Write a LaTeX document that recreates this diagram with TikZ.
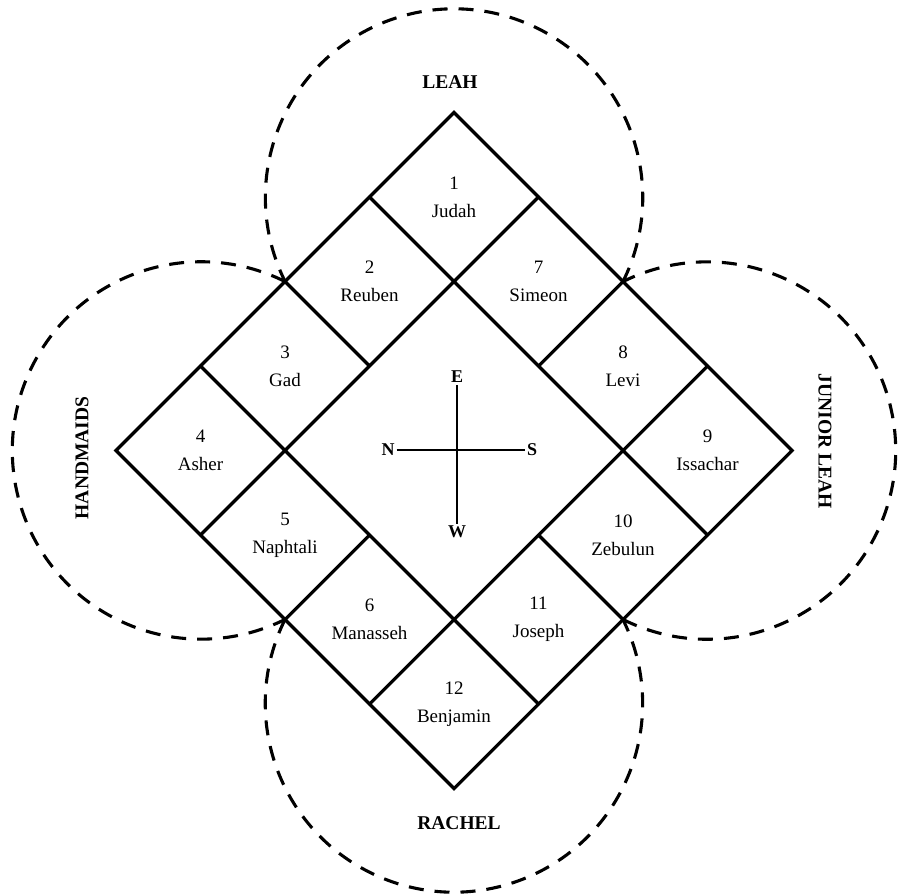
\documentclass[tikz,border=0pt]{standalone}
\usepackage{fontspec}
\setmainfont{Liberation Serif}
\begin{document}
\begin{tikzpicture}[x=1pt,y=-1pt,
  gridline/.style={line width=3.2pt, line cap=round, line join=miter},
  ring/.style={line width=3.1pt, dash pattern=on 15pt off 11pt},
  celltext/.style={align=center, font=\fontsize{19}{28}\selectfont, inner sep=0pt},
  family/.style={font=\bfseries\fontsize{19.5}{23}\selectfont, inner sep=1pt},
  compass/.style={font=\bfseries\fontsize{18}{20}\selectfont, inner sep=2pt},
  compassline/.style={line width=2.8pt}]
\fill[white] (0,0) rectangle (905,895);
\useasboundingbox (0,0) rectangle (905,895);

\begin{scope}[shift={(454pt,-112.5pt)}, x={(84.5pt,-84.5pt)}, y={(-84.5pt,-84.5pt)}]
  \coordinate (jTL) at (0,2);
  \coordinate (jTR) at (2,0);
  \coordinate (jBL) at (2,4);
  \coordinate (jBR) at (4,2);
  \draw[gridline] (0,0) -- (4,0) -- (4,4) -- (0,4) -- cycle;
  \draw[gridline] (1,0) -- (1,4) (3,0) -- (3,4) (0,1) -- (4,1) (0,3) -- (4,3)
                  (2,0) -- (2,1) (2,3) -- (2,4) (0,2) -- (1,2) (3,2) -- (4,2);
  \node[celltext] (c1)  at (0.5,0.5) {1\\Judah};
  \node[celltext] (c2)  at (0.5,1.5) {2\\Reuben};
  \node[celltext] (c3)  at (0.5,2.5) {3\\Gad};
  \node[celltext] (c4)  at (0.5,3.5) {4\\Asher};
  \node[celltext] (c5)  at (1.5,3.5) {5\\Naphtali};
  \node[celltext] (c6)  at (2.5,3.5) {6\\Manasseh};
  \node[celltext] (c12) at (3.5,3.5) {12\\Benjamin};
  \node[celltext] (c7)  at (1.5,0.5) {7\\Simeon};
  \node[celltext] (c8)  at (2.5,0.5) {8\\Levi};
  \node[celltext] (c9)  at (3.5,0.5) {9\\Issachar};
  \node[celltext] (c10) at (3.5,1.5) {10\\Zebulun};
  \node[celltext] (c11) at (3.5,2.5) {11\\Joseph};
\end{scope}

% dashed circles (outside the diamond only)
\draw[ring] (jTR) arc[start angle=-26.43, end angle=206.43, radius=188.7pt];
\draw[ring] (jTL) arc[start angle=63.57, end angle=296.43, radius=188.7pt];
\draw[ring] (jBL) arc[start angle=153.57, end angle=386.43, radius=188.7pt];
\draw[ring] (jBR) arc[start angle=243.57, end angle=476.43, radius=188.7pt];

% family labels
\node[family] (leah) at (450,82) {LEAH};
\node[family] (rachel) at (459,823) {RACHEL};
\node[family, rotate=90] (hand) at (82,458) {HANDMAIDS};
\node[family, rotate=-90] (jleah) at (825,441) {JUNIOR LEAH};

% compass
\node[compass] (nN) at (388,450) {N};
\node[compass] (nS) at (532,450) {S};
\node[compass] (nE) at (457,377) {E};
\node[compass] (nW) at (457,532) {W};
\draw[compassline] (nN) -- (nS);
\draw[compassline] (nE) -- (nW);
\end{tikzpicture}
\end{document}
